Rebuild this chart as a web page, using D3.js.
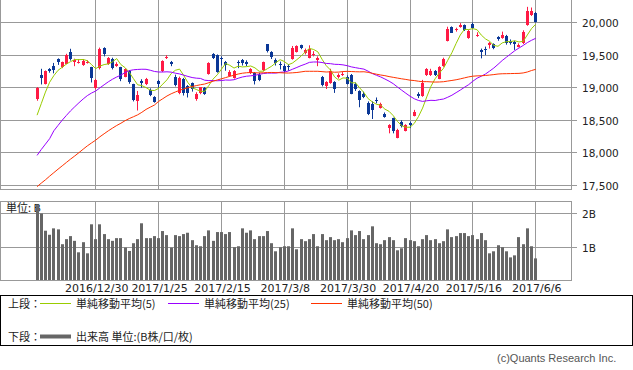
<!DOCTYPE html>
<html><head><meta charset="utf-8">
<script src="https://cdn.jsdelivr.net/npm/d3@7/dist/d3.min.js"></script>
<style>body{margin:0;background:#fff;}svg{display:block;}</style>
</head><body>
<svg id="chart" width="633" height="370"></svg>
<script>
// ---------- DATA ----------
const dates = [
"2016/12/9","2016/12/12","2016/12/13","2016/12/14","2016/12/15","2016/12/16","2016/12/19","2016/12/20","2016/12/21","2016/12/22","2016/12/26","2016/12/27","2016/12/28","2016/12/29","2016/12/30",
"2017/1/4","2017/1/5","2017/1/6","2017/1/10","2017/1/11","2017/1/12","2017/1/13","2017/1/16","2017/1/17","2017/1/18","2017/1/19","2017/1/20","2017/1/23","2017/1/24","2017/1/25",
"2017/1/26","2017/1/27","2017/1/30","2017/1/31","2017/2/1","2017/2/2","2017/2/3","2017/2/6","2017/2/7","2017/2/8","2017/2/9","2017/2/10","2017/2/13","2017/2/14","2017/2/15",
"2017/2/16","2017/2/17","2017/2/20","2017/2/21","2017/2/22","2017/2/23","2017/2/24","2017/2/27","2017/2/28","2017/3/1","2017/3/2","2017/3/3","2017/3/6","2017/3/7","2017/3/8",
"2017/3/9","2017/3/10","2017/3/13","2017/3/14","2017/3/15","2017/3/16","2017/3/17","2017/3/21","2017/3/22","2017/3/23","2017/3/24","2017/3/27","2017/3/28","2017/3/29","2017/3/30",
"2017/3/31","2017/4/3","2017/4/4","2017/4/5","2017/4/6","2017/4/7","2017/4/10","2017/4/11","2017/4/12","2017/4/13","2017/4/14","2017/4/17","2017/4/18","2017/4/19","2017/4/20",
"2017/4/21","2017/4/24","2017/4/25","2017/4/26","2017/4/27","2017/4/28","2017/5/1","2017/5/2","2017/5/8","2017/5/9","2017/5/10","2017/5/11","2017/5/12","2017/5/15","2017/5/16",
"2017/5/17","2017/5/18","2017/5/19","2017/5/22","2017/5/23","2017/5/24","2017/5/25","2017/5/26","2017/5/29","2017/5/30","2017/5/31","2017/6/1","2017/6/2","2017/6/5","2017/6/6"];

const opens = [
18830,19200,19060,19285,19340,19440,19315,19370,19545,19395,19385,19345,19395,19310,18990,
19298,19615,19370,19440,19340,19310,19170,19260,19050,18800,19100,19050,18960,18850,19100,
19250,19455,19400,19160,18920,19130,19020,19070,18820,18920,19000,19215,19520,19500,19450,
19400,19180,19150,19390,19430,19400,19230,19230,19200,19270,19670,19540,19430,19370,19330,
19340,19440,19550,19650,19525,19460,19510,19420,19170,19030,19075,19090,19160,19200,19170,
19200,19050,18950,18910,18770,18750,18810,18690,18600,18375,18530,18230,18480,18340,18460,
18570,18910,18870,19190,19200,19260,19140,19330,19720,19930,19885,19935,19955,19760,19980,
19800,19580,19600,19650,19670,19780,19760,19800,19720,19700,19630,19680,19960,20120,20140];

const highs = [
19010,19290,19265,19300,19380,19450,19400,19520,19597,19445,19440,19440,19420,19320,19135,
19615,19620,19470,19460,19390,19320,19300,19270,19060,18950,19130,19150,18990,18870,19120,
19420,19500,19410,19200,19170,19150,19040,19080,18930,19010,19010,19390,19530,19510,19480,
19410,19270,19270,19420,19440,19420,19300,19240,19230,19400,19670,19560,19450,19400,19360,
19360,19640,19650,19660,19600,19650,19560,19480,19180,19100,19290,19100,19220,19240,19190,
19210,19080,18960,18940,18790,18790,18850,18770,18620,18440,18540,18370,18500,18440,18480,
18660,18930,19120,19300,19290,19270,19330,19460,19935,19940,19920,19990,19970,19890,20000,
19850,19600,19630,19700,19680,19790,19860,19810,19740,19720,19680,19880,20240,20230,20160];

const lows = [
18800,19050,19050,19230,19220,19350,19300,19360,19416,19330,19370,19335,19370,19080,18975,
19280,19480,19350,19280,19320,19100,19160,19060,18790,18650,19000,19040,18870,18770,19000,
19240,19440,19330,19020,18900,18880,18850,18940,18800,18900,18890,19200,19440,19230,19340,
19260,19170,19140,19300,19340,19330,19210,19050,19100,19250,19540,19440,19340,19280,19230,
19260,19430,19540,19590,19510,19450,19480,19330,19020,18980,19060,18920,19140,19180,19050,
18900,18950,18700,18840,18580,18520,18760,18680,18540,18300,18300,18224,18390,18330,18380,
18560,18840,18860,19180,19180,19180,19130,19320,19710,19840,19860,19920,19870,19750,19900,
19780,19450,19500,19600,19590,19720,19750,19660,19660,19580,19620,19670,19950,20100,20000];

const closes = [
18996,19155,19250,19253,19273,19401,19391,19494,19444,19427,19396,19403,19401,19145,19114,
19594,19520,19454,19301,19364,19134,19287,19095,18813,18894,19072,19137,18891,18788,19057,
19402,19467,19368,19041,19148,18914,18918,18976,18910,19007,18907,19378,19459,19238,19437,
19347,19234,19251,19381,19379,19371,19283,19107,19118,19393,19564,19469,19379,19344,19254,
19318,19604,19633,19609,19577,19590,19521,19455,19041,19085,19262,18985,19202,19217,19063,
18909,18983,18810,18861,18597,18664,18797,18747,18552,18426,18335,18355,18418,18432,18430,
18620,18875,19079,19289,19251,19196,19310,19445,19895,19843,19900,19961,19883,19869,19919,
19814,19553,19590,19678,19613,19742,19813,19686,19682,19677,19650,19860,20177,20170,20013];

// volume in billions of shares
const volumes = [
2.25,2.00,1.49,1.37,1.56,1.53,1.09,1.24,1.33,1.19,
0.85,1.15,0.82,1.68,1.24,1.68,1.39,1.24,1.19,1.27,
1.27,0.99,0.89,1.12,1.24,1.71,1.27,1.27,1.33,1.27,
1.48,1.36,0.99,1.36,1.33,1.39,1.43,1.21,1.06,1.03,
1.33,1.50,1.19,1.45,1.45,1.39,1.45,1.00,1.03,1.56,
1.43,1.50,1.24,1.33,1.33,1.48,1.12,0.88,1.00,1.03,
1.03,1.56,0.94,1.24,1.18,1.24,1.39,1.03,1.39,1.21,
1.30,1.21,1.24,1.15,1.27,1.50,1.36,1.48,1.24,1.36,
1.62,1.12,1.09,1.21,1.30,1.21,0.91,0.97,1.27,1.21,
1.18,1.03,1.24,1.36,1.21,1.24,1.12,1.18,1.53,1.30,
1.33,1.42,1.42,1.33,1.36,1.24,1.42,1.21,0.82,0.88,
1.06,1.00,0.88,0.70,0.76,1.30,1.09,1.56,1.03,0.67];

// closes of the 49 sessions before 2016/12/9 (needed by the moving averages)
const priorCloses = [
16465,16694,16450,16599,16736,16819,16899,16860,17025,16840,16774,16856,16900,16964,16999,
17236,17185,17234,17365,17392,17336,17446,17425,17442,17135,16905,17177,17171,16252,17344,
17375,17673,17668,17862,17863,17967,18106,18163,18333,18381,18357,18307,18308,18513,18426,
18275,18361,18497,18765];

const maPeriods = [5, 25, 50];
const priceTicks = [17500, 18000, 18500, 19000, 19500, 20000];
const volumeTicks = [1, 2];
const dateTicks = ["2016/12/30","2017/1/25","2017/2/15","2017/3/8","2017/3/30","2017/4/20","2017/5/16","2017/6/6"];
const legendTop = ["単純移動平均(5)", "単純移動平均(25)", "単純移動平均(50)"];

// ---------- STYLE ----------
const UP = "#ff1a44", DOWN = "#0a3796";
const MA_COLORS = ["#99cc00", "#9900ff", "#ff3300"];
const GRID = "#999999";
const NUMFONT = "'DejaVu Sans', sans-serif";
const JPFONT = "'Noto Sans CJK JP', 'DejaVu Sans', sans-serif";

const svg = d3.select("#chart");
const W = 572;
const x = d3.scalePoint().domain(dates).range([0.4, W + 0.4]).padding(8.75);
const y = d3.scaleLinear().domain([17500, 20000]).range([185.5, 22.5]);
const yv = d3.scaleLinear().domain([0, 2]).range([281, 213.5]);
const crisp = v => Math.round(v - 0.5) + 0.5;
const px = d => Math.floor(x(d)) + 0.5;

// ---------- TOP PANEL ----------
const topG = svg.append("g");
const TOP_B = 189.5;
topG.selectAll("line.hg").data(priceTicks).join("line")
  .attr("x1", 0).attr("x2", W + 5).attr("y1", d => crisp(y(d))).attr("y2", d => crisp(y(d)))
  .attr("stroke", GRID);
topG.selectAll("line.vg").data(dateTicks).join("line")
  .attr("x1", px).attr("x2", px).attr("y1", 0).attr("y2", TOP_B).attr("stroke", GRID);
topG.append("line").attr("x1", 0).attr("x2", W).attr("y1", TOP_B).attr("y2", TOP_B).attr("stroke", GRID);
topG.append("line").attr("x1", 0.5).attr("x2", 0.5).attr("y1", 0).attr("y2", TOP_B).attr("stroke", GRID);
topG.append("line").attr("x1", W - 0.5).attr("x2", W - 0.5).attr("y1", 0).attr("y2", TOP_B).attr("stroke", GRID);
topG.selectAll("text.pt").data(priceTicks).join("text")
  .attr("x", 582).attr("y", d => crisp(y(d)) + 4)
  .attr("font-family", NUMFONT).attr("font-size", 10.5).attr("fill", "#222")
  .text(d => d3.format(",")(d));

// candles
const candles = topG.append("g");
dates.forEach((d, i) => {
  const o = opens[i], c = closes[i];
  const col = c >= o ? UP : DOWN;
  const cx = px(d);
  candles.append("line").attr("x1", cx).attr("x2", cx)
    .attr("y1", y(highs[i])).attr("y2", y(lows[i])).attr("stroke", col);
  const y0 = Math.round(y(Math.max(o, c))), y1 = Math.round(y(Math.min(o, c)));
  candles.append("rect").attr("x", cx - 1.5).attr("width", 3)
    .attr("y", y0).attr("height", Math.max(1, y1 - y0)).attr("fill", col);
});

// moving averages
const all = priorCloses.concat(closes);
maPeriods.forEach((p, k) => {
  const vals = closes.map((_, i) => {
    const end = priorCloses.length + i + 1;
    return d3.mean(all.slice(end - p, end));
  });
  topG.append("path").datum(vals)
    .attr("d", d3.line().x((v, i) => x(dates[i])).y(v => y(v)))
    .attr("fill", "none").attr("stroke", MA_COLORS[k]).attr("stroke-width", 1);
});

// ---------- VOLUME PANEL ----------
const vol = svg.append("g");
const VT = 201.5, VB = 280.5;
vol.append("line").attr("x1", 0).attr("x2", W).attr("y1", VT).attr("y2", VT).attr("stroke", GRID);
vol.append("line").attr("x1", 0).attr("x2", W).attr("y1", VB).attr("y2", VB).attr("stroke", GRID);
vol.append("line").attr("x1", 0.5).attr("x2", 0.5).attr("y1", VT).attr("y2", VB).attr("stroke", GRID);
vol.append("line").attr("x1", W - 0.5).attr("x2", W - 0.5).attr("y1", VT).attr("y2", VB).attr("stroke", GRID);
vol.selectAll("line.vhg").data(volumeTicks).join("line")
  .attr("x1", 0).attr("x2", W + 5).attr("y1", d => crisp(yv(d))).attr("y2", d => crisp(yv(d)))
  .attr("stroke", GRID);
vol.selectAll("line.vvg").data(dateTicks).join("line")
  .attr("x1", px).attr("x2", px).attr("y1", VT).attr("y2", VB).attr("stroke", GRID);
vol.selectAll("text.vt").data(volumeTicks).join("text")
  .attr("x", 582).attr("y", d => crisp(yv(d)) + 4)
  .attr("font-family", NUMFONT).attr("font-size", 10.5).attr("fill", "#222")
  .text(d => d + "B");
vol.append("text").attr("x", 6).attr("y", 212)
  .attr("font-family", JPFONT).attr("font-size", 11).attr("fill", "#222").text("単位: B");
vol.selectAll("rect.bar").data(volumes).join("rect")
  .attr("x", (v, i) => px(dates[i]) - 1.5).attr("width", 3)
  .attr("y", v => Math.max(VT, yv(v))).attr("height", v => 280 - Math.max(VT, yv(v)))
  .attr("fill", "#666666");

// x labels
svg.selectAll("text.xl").data(dateTicks).join("text")
  .attr("x", d => x(d) + 1).attr("y", 292).attr("text-anchor", "middle")
  .attr("font-family", NUMFONT).attr("font-size", 11).attr("fill", "#222")
  .text(d => d);

// ---------- LEGEND ----------
const lg = svg.append("g");
lg.append("rect").attr("x", 0.5).attr("y", 295.5).attr("width", 632).attr("height", 50)
  .attr("fill", "none").attr("stroke", "#000");
lg.append("text").attr("x", 8).attr("y", 307.5).attr("font-family", JPFONT)
  .attr("font-size", 11).attr("fill", "#222").text("上段：");
const legX = [40, 168, 311];
legendTop.forEach((t, k) => {
  lg.append("line").attr("x1", legX[k]).attr("x2", legX[k] + 31).attr("y1", 303.5).attr("y2", 303.5)
    .attr("stroke", MA_COLORS[k]);
  lg.append("text").attr("x", legX[k] + 36).attr("y", 307.5).attr("font-family", JPFONT)
    .attr("font-size", 11).attr("fill", "#222").text(t);
});
lg.append("text").attr("x", 8).attr("y", 340.5).attr("font-family", JPFONT)
  .attr("font-size", 11).attr("fill", "#222").text("下段：");
lg.append("line").attr("x1", 40).attr("x2", 71).attr("y1", 336.5).attr("y2", 336.5)
  .attr("stroke", "#666").attr("stroke-width", 4);
lg.append("text").attr("x", 76).attr("y", 340.5).attr("font-family", JPFONT)
  .attr("font-size", 11).attr("fill", "#222").text("出来高 単位:(B株/口/枚)");

svg.append("text").attr("x", 497).attr("y", 361.5)
  .attr("font-family", "'Liberation Sans', Arial, sans-serif").attr("font-size", 11)
  .attr("fill", "#555").text("(c)Quants Research Inc.");
</script>
</body></html>
